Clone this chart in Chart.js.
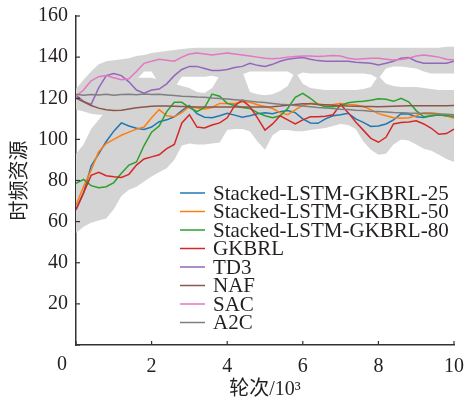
<!DOCTYPE html>
<html>
<head>
<meta charset="utf-8">
<script src="https://cdn.jsdelivr.net/npm/chart.js@4.4.1/dist/chart.umd.min.js"></script>
<style>
  html, body { margin: 0; padding: 0; background: #fff; }
  #wrap { width: 465px; height: 400px; }
</style>
</head>
<body>
<div id="wrap"><canvas id="chart" width="465" height="400"></canvas></div>
<script>
// 横轴：轮次 (×10³)
const xs = [0, 0.2, 0.4, 0.6, 0.8, 1.0, 1.2, 1.4, 1.6, 1.8,
  2.0, 2.2, 2.4, 2.6, 2.8, 3.0, 3.2, 3.4, 3.6, 3.8,
  4.0, 4.2, 4.4, 4.6, 4.8, 5.0, 5.2, 5.4, 5.6, 5.8,
  6.0, 6.2, 6.4, 6.6, 6.8, 7.0, 7.2, 7.4, 7.6, 7.8,
  8.0, 8.2, 8.4, 8.6, 8.8, 9.0, 9.2, 9.4, 9.6, 9.8, 10];

// 各曲线
const lstm25 = [66, 74, 87, 93, 99, 104, 108, 106.5, 105.4, 104.8,
  106, 108.6, 109.5, 111, 114, 116.5, 112.5, 110.8, 110.5, 111.5,
  112.7, 111.8, 110.8, 111.5, 112.5, 113, 112.5, 113.5, 114, 113,
  110, 108, 107.8, 110, 111.5, 112, 112.7, 110, 108.3, 106.3,
  106.5, 107.5, 109.5, 112.5, 112.3, 111, 110.7, 111.5, 112, 111.5, 110.6];
const lstm50 = [68, 77, 85, 94, 98, 100, 102, 103.5, 105, 106,
  110.5, 114.5, 111.5, 111, 113, 116, 115.3, 114.8, 115.5, 117.5,
  117.5, 117.5, 118.3, 118, 116.8, 116, 115, 113, 112, 114.3,
  116.5, 117.6, 117.3, 116.7, 117, 117.5, 117, 116.7, 116, 114.5,
  112.5, 111.5, 110.5, 110.3, 110.5, 111.5, 113, 113, 112.5, 111.5, 110.3];
const lstm80 = [78.6, 80.5, 77.5, 76.5, 77, 79, 83.5, 87.5, 89, 97,
  103.5, 106.5, 113.5, 118, 118, 115.5, 113.5, 115.5, 122, 121,
  117.5, 116.5, 115.5, 115, 113, 111.5, 110.5, 111.5, 115, 120.5,
  122.4, 120, 117, 115.9, 115.9, 116.5, 117.8, 118.3, 118.5, 119,
  119.8, 119.5, 118.5, 120, 118.3, 114, 111, 111.5, 111.8, 111.5, 111.3];
const gkbrl = [65.7, 74, 82.5, 84, 82.3, 81.8, 81.5, 83, 87.5, 90.5,
  91.5, 92.5, 95.5, 97.5, 108, 112, 106, 105.5, 107, 108,
  110.5, 116.5, 119, 116, 110.5, 104.5, 107.5, 111.5, 109.5, 107.5,
  109.5, 111, 111, 111.3, 112, 117, 113, 108.5, 104.5, 100.5,
  98.6, 101, 107.5, 108.2, 108.5, 109, 107.5, 105.4, 102.5, 102.8, 105];
const td3 = [121.5, 118.5, 117, 125, 131, 132, 131, 128, 124, 122.5,
  124, 124.5, 127, 131, 134, 135.5, 135.5, 134.5, 133.5, 133.5,
  134, 135, 135.5, 137, 136, 135.5, 136.5, 138, 139, 139.5,
  139.8, 139, 138.3, 138, 138, 138, 138, 137.5, 137.3, 137,
  136.2, 137, 138, 139.5, 139.8, 138, 137, 137, 137, 137, 138];
const naf = [120, 118.3, 116.5, 115.2, 114.4, 114, 114.2, 114.8, 115.4, 115.8,
  116.1, 116.2, 116.2, 116.1, 116, 115.9, 115.8, 115.8, 115.8, 115.8,
  115.8, 115.8, 115.7, 115.7, 115.7, 115.7, 115.9, 116.2, 116.6, 117,
  117.3, 117.3, 117, 116.8, 116.6, 116.4, 116.2, 116.1, 116, 116,
  115.9, 116, 116.1, 116.2, 116.3, 116.4, 116.4, 116.3, 116.3, 116.4, 116.5];
const sac = [121, 124, 128.5, 130.5, 131, 130, 129, 129.5, 133, 137,
  138, 139, 138.5, 138, 140, 141.5, 142, 141.5, 141, 141.5,
  142, 141.5, 141, 140.5, 140, 139.5, 139.2, 139.5, 140, 140.3,
  140.5, 140.5, 140.3, 140.5, 140.8, 140.5, 139.5, 139, 139.2, 139.4,
  139.4, 139, 138.6, 138.8, 139.5, 140.5, 141, 140.5, 140, 139, 138.6];
const a2c = [122, 121.5, 121.8, 121.6, 121.9, 121.5, 121.8, 122, 121.7, 122.1,
  121.8, 121.9, 121.6, 121.3, 121, 120.9, 120.6, 120.5, 120.1, 119.9,
  119.6, 119.3, 119, 118.6, 118.2, 117.9, 117.5, 117.1, 116.9, 116.5,
  116.2, 115.9, 115.5, 115.3, 115, 114.7, 114.5, 114.2, 114, 113.7,
  113.5, 113.3, 113.1, 113, 112.8, 112.7, 112.6, 112.5, 112.4, 112.2, 112];

// 阴影带（上：TD3/SAC，下：其他）
const upperHi = [124.5, 129, 133, 136.5, 138, 138.5, 139, 139.5, 140.5, 141,
  142, 142.5, 143, 143.5, 144, 144.3, 144.5, 144.5, 144.5, 144.5,
  144.5, 144.5, 144.5, 144.5, 144.5, 144.5, 144.5, 144.5, 144.5, 144.5,
  144.5, 144.5, 144.5, 144.5, 144.5, 144.5, 144.5, 144.5, 144.5, 144.5,
  144.5, 144.5, 144.5, 144.5, 144.5, 144.5, 144.5, 144.5, 144.5, 145, 145];
const upperLo = [114.5, 113.5, 112.5, 112, 112, 120, 120, 120, 129, 133,
  133, 127, 125, 125, 130.5, 130.5, 130.5, 130.5, 131, 130,
  128, 129, 131.5, 133, 133, 133, 133, 133, 133, 131,
  132.5, 132, 132, 132, 132, 132, 132, 132, 132, 131.5,
  129.5, 134.5, 135.5, 135.5, 135, 134.5, 133, 132, 132, 132, 132];
const lowerHi = [93, 97.5, 105, 109.5, 114, 122, 122, 122, 130, 130,
  130, 129, 127, 127, 126, 125, 123, 122.5, 125, 131,
  132, 131, 133, 123, 122, 121.5, 122, 123.5, 126, 133,
  127, 125, 124.5, 124, 124, 124, 124, 124, 124.5, 125.5,
  131, 127, 126, 125.5, 125.5, 125.5, 125, 124.5, 124, 124, 124];
const lowerLo = [54.5, 57.5, 59.5, 60.5, 61.5, 66, 72.5, 75.5, 77, 79.5,
  82, 84, 86, 90, 97, 98, 97.5, 97.5, 98, 98.5,
  104.5, 105, 105, 104, 99, 95, 102, 104.5, 104.5, 104,
  104, 104.5, 105, 105.5, 106.5, 107.5, 107, 105, 99, 95,
  92.5, 93, 97.5, 100, 99.5, 97.5, 95.5, 94.5, 92.5, 90.5, 89];

const seriesNames = ["Stacked-LSTM-GKBRL-25", "Stacked-LSTM-GKBRL-50", "Stacked-LSTM-GKBRL-80",
  "GKBRL", "TD3", "NAF", "SAC", "A2C"];
const seriesData = [lstm25, lstm50, lstm80, gkbrl, td3, naf, sac, a2c];
const seriesColors = ["#1f77b4", "#ff7f0e", "#2ca02c", "#d62728", "#9467bd", "#8c564b", "#e377c2", "#7f7f7f"];
const bandColor = "#d4d4d4";

const serifFont = '"Liberation Serif", "Noto Sans CJK SC", serif';
const textColor = "#231f20";

const toPoints = arr => arr.map((v, i) => ({ x: xs[i], y: v }));

function bandSet(arr, fill) {
  return {
    data: toPoints(arr),
    borderWidth: 0,
    pointRadius: 0,
    backgroundColor: bandColor,
    fill: fill,
    order: 20
  };
}

const datasets = [
  bandSet(upperHi, "+1"),
  bandSet(upperLo, false),
  bandSet(lowerHi, "+1"),
  bandSet(lowerLo, false)
];
seriesData.forEach((arr, i) => {
  datasets.push({
    label: seriesNames[i],
    data: toPoints(arr),
    borderColor: seriesColors[i],
    borderWidth: 1.5,
    pointRadius: 0,
    fill: false,
    tension: 0,
    order: seriesData.length - i
  });
});

// 内向刻度线・凡例・原点の0
const decorPlugin = {
  id: "decor",
  afterDraw(chart) {
    const ctx = chart.ctx;
    const xs_ = chart.scales.x, ys_ = chart.scales.y;
    const area = chart.chartArea;
    ctx.save();
    ctx.strokeStyle = "#333";
    ctx.lineWidth = 1.2;
    xs_.ticks.forEach(t => {
      const px = xs_.getPixelForValue(t.value);
      ctx.beginPath(); ctx.moveTo(px, area.bottom); ctx.lineTo(px, area.bottom - 4); ctx.stroke();
    });
    ys_.ticks.forEach(t => {
      const py = ys_.getPixelForValue(t.value);
      ctx.beginPath(); ctx.moveTo(area.left, py); ctx.lineTo(area.left + 4, py); ctx.stroke();
    });

    ctx.fillStyle = textColor;
    ctx.font = "20px " + serifFont;
    ctx.textAlign = "center";
    ctx.textBaseline = "middle";
    ctx.fillText("0", area.left - 14, 365);

    ctx.font = "21px " + serifFont;
    ctx.textAlign = "left";
    seriesNames.forEach((name, i) => {
      const y = 193 + i * 18.5;
      ctx.strokeStyle = seriesColors[i];
      ctx.lineWidth = 1.5;
      ctx.beginPath(); ctx.moveTo(180, y); ctx.lineTo(205, y); ctx.stroke();
      ctx.fillText(name, 213, y + 1);
    });
    ctx.restore();
  }
};

new Chart(document.getElementById("chart"), {
  type: "line",
  data: { datasets },
  options: {
    responsive: false,
    animation: false,
    layout: { padding: { top: 16, right: 11, left: 0, bottom: 0 } },
    plugins: { legend: { display: false }, tooltip: { enabled: false } },
    scales: {
      x: {
        type: "linear",
        min: 0, max: 10,
        grid: { display: false, drawTicks: false },
        border: { color: "#333", width: 1.5 },
        ticks: {
          stepSize: 2, padding: 10, color: textColor,
          font: { family: serifFont, size: 20 },
          maxRotation: 0,
          callback: v => v === 0 ? "" : v
        },
        title: {
          display: true, text: "轮次/10³", color: textColor,
          font: { family: serifFont, size: 20 },
          padding: { top: 0, bottom: -2 }
        },
        afterFit: s => { s.height = 55; s.paddingLeft = 0; s.paddingRight = 0; }
      },
      y: {
        min: 0, max: 160,
        grid: { display: false, drawTicks: false },
        border: { color: "#333", width: 1.5 },
        ticks: {
          stepSize: 20, padding: 8, color: textColor,
          font: { family: serifFont, size: 20 },
          callback: v => v === 0 ? "" : v
        },
        title: {
          display: true, text: "时频资源", color: textColor,
          font: { family: serifFont, size: 20 },
          padding: { top: 9, bottom: 0 }
        },
        afterFit: s => { s.width = 76; s.paddingTop = 0; s.paddingBottom = 0; }
      }
    }
  },
  plugins: [decorPlugin]
});
</script>
</body>
</html>
